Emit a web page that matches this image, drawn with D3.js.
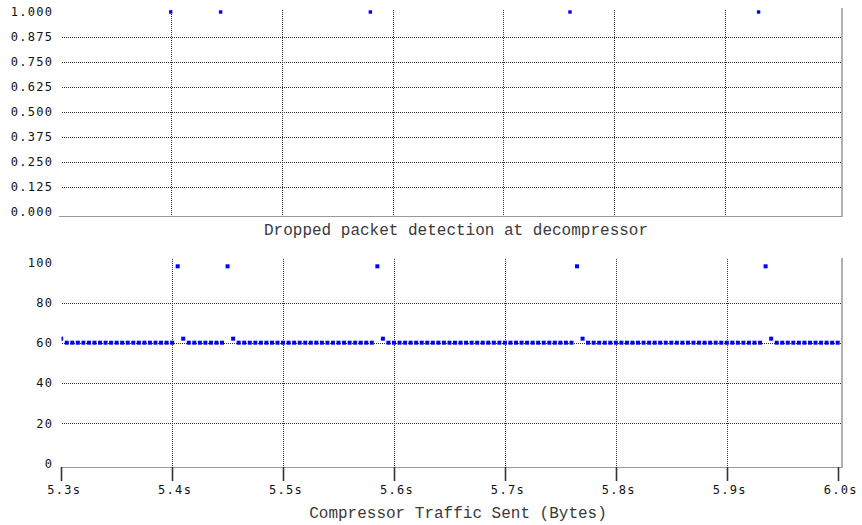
<!DOCTYPE html>
<html>
<head>
<meta charset="utf-8">
<script src="https://cdn.jsdelivr.net/npm/d3@7"></script>
<style>
  body { margin: 0; background: #fff; }
  .tick-label { font-family: "DejaVu Sans Mono", monospace; font-size: 12px; letter-spacing: 1.3px; fill: #111; }
  .title { font-family: "Liberation Mono", "Courier New", monospace; font-size: 16px; fill: #3a3a3a; }
</style>
</head>
<body>
<script>
// detections at decompressor (top plot)
var detectTimes = [5.400, 5.445, 5.580, 5.760, 5.930];
var detectValues = [1, 1, 1, 1, 1];
var detectTicks = [0, 0.125, 0.25, 0.375, 0.5, 0.625, 0.75, 0.875, 1];
var detectLabels = ['0.000', '0.125', '0.250', '0.375', '0.500', '0.625', '0.750', '0.875', '1.000'];

// compressor traffic, one packet every 5 ms starting at 5.300s (bottom plot)
var sentStart = 5.300;
var sentStep = 0.005;
var sentValues = [
  62,
  60, 60, 60, 60, 60, 60, 60, 60, 60, 60, 60, 60, 60, 60, 60, 60, 60, 60, 60, 60,
  98, 62,
  60, 60, 60, 60, 60, 60, 60,
  98, 62,
  60, 60, 60, 60, 60, 60, 60, 60, 60, 60, 60, 60, 60, 60, 60, 60, 60, 60, 60, 60, 60, 60, 60, 60, 60,
  98, 62,
  60, 60, 60, 60, 60, 60, 60, 60, 60, 60, 60, 60, 60, 60, 60, 60, 60, 60, 60, 60, 60, 60, 60, 60, 60, 60, 60, 60, 60, 60, 60, 60, 60, 60,
  98, 62,
  60, 60, 60, 60, 60, 60, 60, 60, 60, 60, 60, 60, 60, 60, 60, 60, 60, 60, 60, 60, 60, 60, 60, 60, 60, 60, 60, 60, 60, 60, 60, 60,
  98, 62,
  60, 60, 60, 60, 60, 60, 60, 60, 60, 60, 60, 60
];
var sentTicks = [0, 20, 40, 60, 80, 100];
var sentLabels = ['0', '20', '40', '60', '80', '100'];

var timeTicks = [5.3, 5.4, 5.5, 5.6, 5.7, 5.8, 5.9, 6.0];
var timeLabels = ['5.3s', '5.4s', '5.5s', '5.6s', '5.7s', '5.8s', '5.9s', '6.0s'];
var gridTimes = [5.4, 5.5, 5.6, 5.7, 5.8, 5.9];

var svg = d3.select('body')
            .append('svg')
            .attr('width', 862)
            .attr('height', 525);

var xTop = d3.scaleLinear().domain([5.3, 6.0]).range([59.8, 836.2]);
var yTop = d3.scaleLinear().domain([0, 1]).range([212, 12]);
var xBot = d3.scaleLinear().domain([5.3, 6.0]).range([61.2, 837.7]);
var yBot = d3.scaleLinear().domain([0, 100]).range([463.3, 262.3]);

var dotted = function(sel) {
  return sel.attr('stroke', '#333').attr('stroke-width', 1).attr('stroke-dasharray', '1,1');
};

// ---------- top plot ----------
var topPlot = svg.append('g');

topPlot.selectAll('line.hgrid')
   .data(detectTicks.filter(function(d) { return d > 0 && d < 1; }))
   .enter().append('line')
   .attr('class', 'hgrid')
   .attr('x1', 62).attr('x2', 841)
   .attr('y1', function(d) { return Math.round(yTop(d)) + 0.5; })
   .attr('y2', function(d) { return Math.round(yTop(d)) + 0.5; })
   .call(dotted);

topPlot.selectAll('line.vgrid')
   .data(gridTimes)
   .enter().append('line')
   .attr('class', 'vgrid')
   .attr('x1', function(d) { return Math.round(xTop(d)) + 0.5; })
   .attr('x2', function(d) { return Math.round(xTop(d)) + 0.5; })
   .attr('y1', 10).attr('y2', 216)
   .call(dotted);

// frame
topPlot.append('line').attr('x1', 59).attr('x2', 842).attr('y1', 216.5).attr('y2', 216.5)
   .attr('stroke', '#999').attr('stroke-width', 1);
topPlot.append('line').attr('x1', 842).attr('x2', 842).attr('y1', 8).attr('y2', 217)
   .attr('stroke', '#999').attr('stroke-width', 1.5);

topPlot.selectAll('text.ylab')
   .data(detectTicks)
   .enter().append('text')
   .attr('class', 'tick-label ylab')
   .attr('text-anchor', 'end')
   .attr('x', 53.3)
   .attr('y', function(d) { return yTop(d) + 4.4; })
   .text(function(d, i) { return detectLabels[i]; });

topPlot.selectAll('rect.pt')
   .data(detectTimes)
   .enter().append('rect')
   .attr('class', 'pt')
   .attr('x', function(d) { return xTop(d) - 1.7; })
   .attr('y', function(d, i) { return yTop(detectValues[i]) - 1.7; })
   .attr('width', 3.4).attr('height', 3.4)
   .attr('fill', '#0000ff');

svg.append('text')
   .attr('class', 'title')
   .attr('text-anchor', 'middle')
   .attr('x', 456).attr('y', 235)
   .text('Dropped packet detection at decompressor');

// ---------- bottom plot ----------
var botPlot = svg.append('g');

botPlot.append('clipPath').attr('id', 'botclip')
   .append('rect').attr('x', 61.5).attr('y', 250).attr('width', 781).attr('height', 220);

botPlot.selectAll('line.hgrid')
   .data(sentTicks.filter(function(d) { return d > 0 && d < 100; }))
   .enter().append('line')
   .attr('class', 'hgrid')
   .attr('x1', 62).attr('x2', 841)
   .attr('y1', function(d) { return Math.round(yBot(d)) + 0.5; })
   .attr('y2', function(d) { return Math.round(yBot(d)) + 0.5; })
   .call(dotted);

botPlot.selectAll('line.vgrid')
   .data(gridTimes)
   .enter().append('line')
   .attr('class', 'vgrid')
   .attr('x1', function(d) { return Math.round(xBot(d)) + 0.5; })
   .attr('x2', function(d) { return Math.round(xBot(d)) + 0.5; })
   .attr('y1', 259).attr('y2', 467)
   .call(dotted);

botPlot.append('line').attr('x1', 61).attr('x2', 842).attr('y1', 467.5).attr('y2', 467.5)
   .attr('stroke', '#999').attr('stroke-width', 1);
botPlot.append('line').attr('x1', 842).attr('x2', 842).attr('y1', 258).attr('y2', 468)
   .attr('stroke', '#999').attr('stroke-width', 1.5);

botPlot.selectAll('line.xtick')
   .data(timeTicks)
   .enter().append('line')
   .attr('class', 'xtick')
   .attr('x1', function(d) { return Math.round(xBot(d)) + 0.5; })
   .attr('x2', function(d) { return Math.round(xBot(d)) + 0.5; })
   .attr('y1', 467).attr('y2', 481)
   .attr('stroke', '#333').attr('stroke-width', 1.6);

botPlot.selectAll('text.xlab')
   .data(timeTicks)
   .enter().append('text')
   .attr('class', 'tick-label xlab')
   .attr('text-anchor', 'middle')
   .attr('x', function(d) { return xBot(d) + 3; })
   .attr('y', 493.5)
   .text(function(d, i) { return timeLabels[i]; });

botPlot.selectAll('text.ylab')
   .data(sentTicks)
   .enter().append('text')
   .attr('class', 'tick-label ylab')
   .attr('text-anchor', 'end')
   .attr('x', 53.3)
   .attr('y', function(d) { return yBot(d) + 4.4; })
   .text(function(d, i) { return sentLabels[i]; });

botPlot.append('g').attr('clip-path', 'url(#botclip)')
   .selectAll('rect.pt')
   .data(sentValues)
   .enter().append('rect')
   .attr('class', 'pt')
   .attr('x', function(d, i) { return xBot(sentStart + i * sentStep) - 2; })
   .attr('y', function(d) { return yBot(d) - 2; })
   .attr('width', 4).attr('height', 4)
   .attr('fill', '#0000ff');

svg.append('text')
   .attr('class', 'title')
   .attr('text-anchor', 'middle')
   .attr('x', 458).attr('y', 518)
   .text('Compressor Traffic Sent (Bytes)');
</script>
</body>
</html>
